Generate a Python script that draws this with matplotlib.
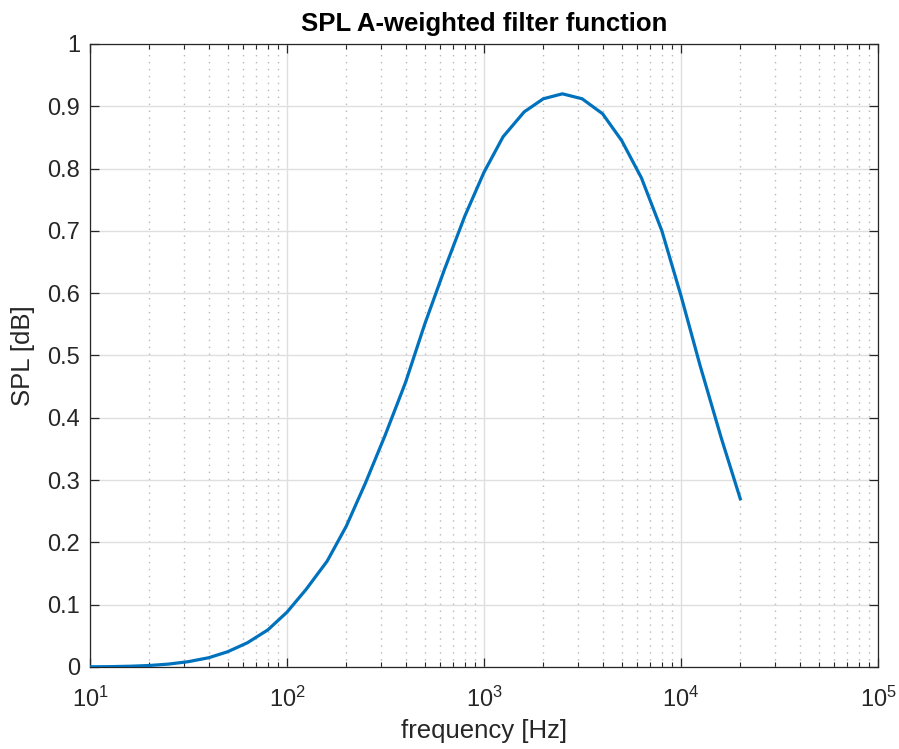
import matplotlib
matplotlib.use("Agg")
import matplotlib.pyplot as plt
from matplotlib.ticker import LogLocator, NullFormatter

plt.rcParams['font.family'] = ['Liberation Sans', 'DejaVu Sans']
plt.rcParams['mathtext.fontset'] = 'custom'
plt.rcParams['mathtext.rm'] = 'Liberation Sans'
plt.rcParams['mathtext.it'] = 'Liberation Sans'

freq = [10, 12.5, 16, 20, 25, 31.5, 40, 50, 63, 80, 100, 125, 160, 200, 250, 315,
        400, 500, 630, 800, 1000, 1250, 1600, 2000, 2500, 3150, 4000, 5000, 6300,
        8000, 10000, 12500, 16000, 20000]
spl = [0.0003, 0.0005, 0.0012, 0.0024, 0.0046, 0.0085, 0.0148, 0.0245, 0.0389, 0.0596,
       0.088, 0.1245, 0.170, 0.226, 0.295, 0.372, 0.457, 0.550, 0.638, 0.724, 0.794,
       0.851, 0.891, 0.912, 0.920, 0.912, 0.888, 0.845, 0.785, 0.700, 0.596, 0.484,
       0.368, 0.270]

title = "SPL A-weighted filter function"
xlabel = "frequency [Hz]"
ylabel = "SPL [dB]"
yticks = [0, 0.1, 0.2, 0.3, 0.4, 0.5, 0.6, 0.7, 0.8, 0.9, 1]
ytick_labels = ["0", "0.1", "0.2", "0.3", "0.4", "0.5", "0.6", "0.7", "0.8", "0.9", "1"]

fig = plt.figure(figsize=(8.99, 7.49), dpi=100)
ax = fig.add_axes([0.1001, 0.1095, 0.8765, 0.8318])

ax.plot(freq, spl, color='#0072BD', lw=2.3, zorder=3)
ax.set_xscale('log')
ax.set_xlim(10, 1e5)
ax.set_ylim(0, 1)
ax.set_yticks(yticks)
ax.set_yticklabels(ytick_labels)
ax.xaxis.set_major_locator(LogLocator(base=10, numticks=10))
ax.xaxis.set_minor_locator(LogLocator(base=10, subs=range(2, 10), numticks=100))
ax.xaxis.set_minor_formatter(NullFormatter())

ax.grid(True, which='major', color='#dfdfdf', lw=1.0, ls='-', zorder=0)
ax.grid(True, which='minor', axis='x', color='#b8b8b8', lw=1.0, ls=(0, (1, 4)), zorder=0)
ax.set_axisbelow(True)

dark = '#262626'
for s in ax.spines.values():
    s.set_color(dark)
    s.set_linewidth(0.9)
ax.tick_params(which='both', direction='in', top=True, right=True, colors=dark,
               labelsize=17, labelcolor=dark)
ax.tick_params(which='major', length=6.5, width=0.9)
ax.tick_params(which='minor', length=3.5, width=0.8)
ax.tick_params(axis='y', which='major', pad=7)
ax.tick_params(axis='x', which='major', pad=14)

ax.set_title(title, fontsize=18.5, fontweight='bold', color='black', pad=9)
ax.set_xlabel(xlabel, fontsize=18.5, color=dark, labelpad=5)
ax.set_ylabel(ylabel, fontsize=18.5, color=dark, labelpad=9)

fig.savefig('out.png', dpi=100)
